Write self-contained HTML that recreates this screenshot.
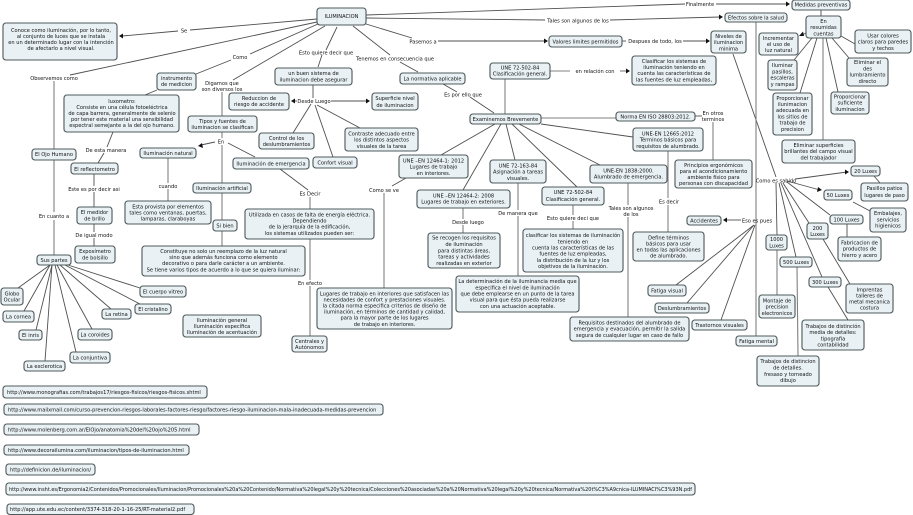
<!DOCTYPE html>
<html><head><meta charset="utf-8"><style>
html,body{margin:0;padding:0;background:#fff;width:913px;height:515px;overflow:hidden}
svg{display:block;filter:blur(.25px)}
text{font-family:"DejaVu Sans","Liberation Sans",sans-serif;font-size:5.1px;fill:#111;text-anchor:middle}
.l{text-anchor:start}
rect{fill:#e9f1f4;stroke:#505b5d;stroke-width:1.1;filter:drop-shadow(.5px .5px 0 #8a9294)}
line{stroke:#505050;stroke-width:.9}
line.v{stroke:#808080;stroke-width:1.1}
polygon{fill:#111}
</style></head><body>
<svg width="913" height="515" viewBox="0 0 913 515">
<g>
<line x1="317" y1="19" x2="190" y2="30"/><line x1="178" y1="31" x2="122" y2="36"/>
<line x1="317" y1="22" x2="70" y2="75"/>
<line x1="318" y1="24" x2="250" y2="54"/><line x1="231" y1="60" x2="196" y2="74"/>
<line x1="325" y1="26" x2="233" y2="80"/>
<line x1="337" y1="27" x2="326" y2="50"/><line x1="322" y1="55" x2="318" y2="67"/>
<line x1="353" y1="26" x2="390" y2="55"/><line x1="400" y1="62" x2="418" y2="72"/>
<line x1="366" y1="24" x2="412" y2="38"/><line x1="438" y1="41" x2="546" y2="41"/>
<line x1="366" y1="15" x2="685" y2="4"/><line x1="716" y1="4" x2="788" y2="4"/>
<line x1="366" y1="18" x2="545" y2="20"/><line x1="610" y1="20" x2="720" y2="17"/>
<line x1="622" y1="41" x2="626" y2="41"/><line x1="683" y1="41" x2="708" y2="41"/>
<line x1="733" y1="54" x2="776" y2="177"/>
<line x1="756" y1="22" x2="756" y2="336" class="v"/>
<line x1="806" y1="33" x2="802" y2="35"/>
<line x1="812" y1="38" x2="794" y2="60"/><line x1="817" y1="38" x2="800" y2="93"/>
<line x1="823" y1="38" x2="823" y2="140" class="v"/><line x1="826" y1="38" x2="838" y2="92"/>
<line x1="832" y1="38" x2="849" y2="58"/><line x1="841" y1="36" x2="855" y2="44"/>
<line x1="821" y1="10" x2="821" y2="16"/>
<line x1="505" y1="79" x2="505" y2="114" class="v"/>
<line x1="541" y1="118" x2="616" y2="118" class="v"/>
<line x1="541" y1="124" x2="633" y2="137"/><line x1="519" y1="124" x2="600" y2="165"/>
<line x1="512" y1="124" x2="577" y2="187"/><line x1="506" y1="124" x2="515" y2="160"/>
<line x1="501" y1="124" x2="463" y2="190"/><line x1="495" y1="124" x2="441" y2="155"/>
<line x1="443" y1="84" x2="457" y2="92"/><line x1="470" y1="97" x2="494" y2="113"/>
<line x1="550" y1="71" x2="570" y2="71" class="v"/><line x1="620" y1="71" x2="628" y2="71" class="v"/>
<line x1="695" y1="116" x2="702" y2="116"/><line x1="713" y1="122" x2="713" y2="160" class="v"/>
<line x1="668" y1="151" x2="668" y2="198" class="v"/><line x1="668" y1="205" x2="668" y2="232" class="v"/>
<line x1="628" y1="183" x2="628" y2="205" class="v"/><line x1="628" y1="217" x2="628" y2="317" class="v"/>
<line x1="573" y1="205" x2="573" y2="215" class="v"/><line x1="573" y1="221" x2="573" y2="229" class="v"/>
<line x1="518" y1="183" x2="518" y2="210" class="v"/><line x1="518" y1="216" x2="518" y2="276" class="v"/>
<line x1="463" y1="208" x2="463" y2="219" class="v"/><line x1="463" y1="225" x2="463" y2="233" class="v"/>
<line x1="406" y1="178" x2="392" y2="186"/><line x1="384" y1="193" x2="384" y2="288" class="v"/>
<line x1="313" y1="85" x2="313" y2="98"/><line x1="297" y1="101" x2="293" y2="101"/>
<line x1="331" y1="101" x2="368" y2="101"/><line x1="311" y1="104" x2="293" y2="133"/>
<line x1="315" y1="105" x2="333" y2="157"/><line x1="317" y1="105" x2="360" y2="128"/>
<line x1="222" y1="92" x2="222" y2="116" class="v"/><line x1="222" y1="132" x2="222" y2="138" class="v"/>
<line x1="215" y1="142" x2="201" y2="145"/><line x1="228" y1="143" x2="255" y2="157"/>
<line x1="222" y1="145" x2="222" y2="183" class="v"/><line x1="222" y1="193" x2="222" y2="246" class="v"/>
<line x1="168" y1="158" x2="168" y2="183" class="v"/><line x1="168" y1="189" x2="168" y2="201" class="v"/>
<line x1="280" y1="169" x2="308" y2="190"/><line x1="310" y1="197" x2="310" y2="209" class="v"/>
<line x1="310" y1="239" x2="310" y2="280" class="v"/><line x1="310" y1="286" x2="310" y2="336" class="v"/>
<line x1="54" y1="81" x2="54" y2="212" class="v"/><line x1="54" y1="220" x2="54" y2="255" class="v"/>
<line x1="157" y1="90" x2="145" y2="95"/>
<line x1="113" y1="132" x2="107" y2="147"/><line x1="104" y1="153" x2="98" y2="163"/>
<line x1="94" y1="174" x2="94" y2="186"/><line x1="94" y1="192" x2="94" y2="207"/>
<line x1="94" y1="224" x2="94" y2="232"/><line x1="94" y1="238" x2="94" y2="246"/>
<line x1="50" y1="265" x2="18" y2="288"/><line x1="50" y1="265" x2="24" y2="311"/>
<line x1="52" y1="265" x2="36" y2="330"/><line x1="52" y1="265" x2="45" y2="361"/>
<line x1="55" y1="265" x2="76" y2="352"/><line x1="57" y1="265" x2="92" y2="329"/>
<line x1="60" y1="265" x2="111" y2="309"/><line x1="65" y1="265" x2="140" y2="304"/>
<line x1="68" y1="265" x2="140" y2="288"/>
<line x1="795" y1="179" x2="847" y2="172"/><line x1="787" y1="181" x2="820" y2="190"/>
<line x1="776" y1="183" x2="777" y2="235"/><line x1="777" y1="250" x2="777" y2="295" class="v"/>
<line x1="779" y1="183" x2="796" y2="257"/><line x1="797" y1="267" x2="798" y2="356" class="v"/>
<line x1="781" y1="183" x2="822" y2="277"/><line x1="828" y1="287" x2="848" y2="320"/>
<line x1="783" y1="183" x2="809" y2="223"/><line x1="823" y1="239" x2="850" y2="284"/>
<line x1="787" y1="182" x2="830" y2="215"/><line x1="847" y1="224" x2="847" y2="237"/>
<line x1="874" y1="176" x2="880" y2="183"/><line x1="853" y1="202" x2="870" y2="211"/>
<line x1="741" y1="220" x2="725" y2="220"/>
<line x1="754" y1="225" x2="676" y2="285"/><line x1="754" y1="225" x2="687" y2="303"/><line x1="755" y1="225" x2="721" y2="320"/>
</g>
<g>
<polygon points="119,36 123,33.5 123,38.5"/><polygon points="548,41 544,38.5 544,43.5"/>
<polygon points="790,4 786,1.5 786,6.5"/><polygon points="723,17 719,14.5 719,19.5"/>
<polygon points="710,41 706,38.5 706,43.5"/><polygon points="799,36 803,31.5 804,36"/>
<polygon points="630,71 626,68.500 626,73.500"/><polygon points="291,101 295,98.500 295,103.500"/>
<polygon points="370,101 366,98.500 366,103.500"/><polygon points="198,146 202,143 203,148"/>
<polygon points="849,172 845,169.500 845,174.500"/><polygon points="822,190 818,187 817,192"/>
<polygon points="723,220 727,217.500 727,222.500"/>
</g>
<g>
<rect x="317" y="8" width="49" height="17" rx="3"/><text x="341.500" y="18">ILUMINACION</text>
<rect x="3" y="23" width="114" height="37" rx="3"/>
<text x="61" y="32">Conoce como iluminación, por lo tanto,</text><text x="61" y="38">al conjunto de luces  que se instala</text><text x="61" y="44">en un determinado lugar con la intención</text><text x="61" y="50">de afectarlo a nivel visual.</text>
<rect x="157" y="73" width="39" height="17" rx="3"/><text x="176.500" y="80">instrumento</text><text x="176.500" y="86">de medicion</text>
<rect x="64" y="95" width="115" height="37" rx="3"/>
<text x="122" y="103">luxometro:</text><text x="122" y="109">Consiste en una célula fotoeléctrica</text><text x="122" y="115">de capa barrera, generalmente de selenio</text><text x="122" y="121">por tener este material una sensibilidad</text><text x="122" y="127">espectral semejante a la del ojo humano.</text>
<rect x="32" y="149" width="44" height="11" rx="3"/><text x="54" y="156">El Ojo Humano</text>
<rect x="71" y="163" width="47" height="11" rx="3"/><text x="94.500" y="171">El reflectometro</text>
<rect x="140" y="148" width="56" height="10" rx="3"/><text x="168" y="155">Iluminación natural</text>
<rect x="193" y="183" width="58" height="10" rx="3"/><text x="222" y="190">Iluminación artificial</text>
<rect x="188" y="116" width="69" height="16" rx="3"/><text x="222.500" y="123">Tipos y fuentes de</text><text x="222.500" y="129">iluminacion se clasifican</text>
<rect x="229" y="93" width="60" height="17" rx="3"/><text x="259" y="100">Reduccion de</text><text x="259" y="106">riesgo de  accidente</text>
<rect x="233" y="158" width="76" height="11" rx="3"/><text x="271" y="165.500">Iluminación de emergencia</text>
<rect x="259" y="133" width="55" height="16" rx="3"/><text x="286.500" y="140">Control de los</text><text x="286.500" y="146">deslumbramientos</text>
<rect x="275" y="68" width="77" height="17" rx="3"/><text x="313.500" y="75">un buen sistema de</text><text x="313.500" y="81.500">iluminacion debe asegurar</text>
<rect x="372" y="93" width="46" height="17" rx="3"/><text x="395" y="100">Superficie nivel</text><text x="395" y="107">de iluminacion</text>
<rect x="345" y="128" width="73" height="23" rx="3"/><text x="381.500" y="135.500">Contraste adecuado entre</text><text x="381.500" y="141.500">los distintos   aspectos</text><text x="381.500" y="148">visuales de la tarea</text>
<rect x="313" y="157" width="44" height="11" rx="3"/><text x="335" y="164.500">Confort visual</text>
<rect x="400" y="73" width="65" height="11" rx="3"/><text x="432.500" y="80.500">La normativa  aplicable</text>
<rect x="549" y="36" width="73" height="11" rx="3"/><text x="585.500" y="43.500">Valores limites permitidos</text>
<rect x="792" y="0" width="58" height="10" rx="3"/><text x="821" y="6.500">Medidas preventivas</text>
<rect x="725" y="13" width="62" height="9" rx="3"/><text x="756" y="19.500">Efectos sobre la salud</text>
<rect x="711" y="31" width="35" height="22" rx="3"/><text x="728.500" y="38">Niveles de</text><text x="728.500" y="44">iluminacion</text><text x="728.500" y="50.500">minima</text>
<rect x="806" y="16" width="35" height="22" rx="3"/><text x="823.500" y="23">En</text><text x="823.500" y="29">resumidas</text><text x="823.500" y="35.500">cuentas</text>
<rect x="759" y="33" width="39" height="22" rx="3"/><text x="778.500" y="40">Incrementar</text><text x="778.500" y="46">el uso  de</text><text x="778.500" y="52">luz natural</text>
<rect x="855" y="30" width="56" height="23" rx="3"/><text x="883" y="37.500">Usar colores</text><text x="883" y="43.500">claros para paredes</text><text x="883" y="50">y techos</text>
<rect x="768" y="60" width="29" height="30" rx="3"/><text x="782.500" y="67">Iluminar</text><text x="782.500" y="73.500">pasillos,</text><text x="782.500" y="79.500">escaleras</text><text x="782.500" y="86">y rampas</text>
<rect x="847" y="58" width="41" height="28" rx="3"/><text x="867.500" y="64">Eliminar el</text><text x="867.500" y="70.500">des</text><text x="867.500" y="76.500">lumbramiento</text><text x="867.500" y="83">directo</text>
<rect x="773" y="93" width="39" height="42" rx="3"/><text x="792.500" y="100">Proporcionar</text><text x="792.500" y="106">ilunimacion</text><text x="792.500" y="112">adecuada en</text><text x="792.500" y="118.500">los sitios de</text><text x="792.500" y="124.500">trabajo de</text><text x="792.500" y="131">precision</text>
<rect x="831" y="92" width="38" height="22" rx="3"/><text x="850" y="98.500">Proporcionar</text><text x="850" y="104.500">suficiente</text><text x="850" y="111">iluminacion</text>
<rect x="782" y="140" width="73" height="23" rx="3"/><text x="818.500" y="147">Eliminar superficies</text><text x="818.500" y="153">brillantes del campo visual</text><text x="818.500" y="159.500">del trabajador</text>
<rect x="632" y="56" width="84" height="29" rx="3"/><text x="674" y="63">Clasificar los sistemas de</text><text x="674" y="69">iluminación teniendo en</text><text x="674" y="75">cuenta las características de</text><text x="674" y="81.500">las fuentes de luz empleadas,</text>
<rect x="490" y="63" width="60" height="16" rx="3"/><text x="520" y="69.500">UNE 72-502-84</text><text x="520" y="75.500">Clasificación general.</text>
<rect x="470" y="114" width="71" height="10" rx="3"/><text x="505.500" y="121">Examinemos Brevemente</text>
<rect x="616" y="112" width="79" height="9" rx="3"/><text x="655.500" y="118.500">Norma EN ISO 28803:2012.</text>
<rect x="633" y="128" width="70" height="23" rx="3"/><text x="668" y="135.500">UNE-EN 12665:2012</text><text x="668" y="141.500">Términos básicos para</text><text x="668" y="148">requisitos de alumbrado.</text>
<rect x="675" y="160" width="77" height="28" rx="3"/><text x="713.500" y="167">Principios ergonómicos</text><text x="713.500" y="173">para el acondicionamiento</text><text x="713.500" y="179">ambiente físico  para</text><text x="713.500" y="185">personas con discapacidad</text>
<rect x="590" y="165" width="77" height="18" rx="3"/><text x="628.500" y="172.500">UNE-EN 1838:2000.</text><text x="628.500" y="178.500">Alumbrado de emergencia.</text>
<rect x="851" y="166" width="29" height="10" rx="3"/><text x="865.500" y="173">20 Luxes</text>
<rect x="861" y="183" width="47" height="18" rx="3"/><text x="884.500" y="190">Pasillos patios</text><text x="884.500" y="197">lugares de paso</text>
<rect x="824" y="190" width="28" height="10" rx="3"/><text x="838" y="197">50 Luxes</text>
<rect x="870" y="208" width="36" height="24" rx="3"/><text x="888" y="215">Embalajes,</text><text x="888" y="221.500">servicios</text><text x="888" y="227.500">higienicos</text>
<rect x="830" y="215" width="33" height="9" rx="3"/><text x="846.500" y="221.500">100 Luxes</text>
<rect x="838" y="237" width="43" height="24" rx="3"/><text x="859.500" y="244.500">Fabricacion de</text><text x="859.500" y="250.500">productos de</text><text x="859.500" y="257">hierro y acero</text>
<rect x="807" y="223" width="21" height="16" rx="3"/><text x="817.500" y="230">200</text><text x="817.500" y="236">Luxes</text>
<rect x="766" y="235" width="21" height="15" rx="3"/><text x="776.500" y="241">1000</text><text x="776.500" y="247.500">Luxes</text>
<rect x="780" y="257" width="32" height="10" rx="3"/><text x="796" y="264">500 Luxes</text>
<rect x="809" y="277" width="32" height="10" rx="3"/><text x="825" y="284">300 Luxes</text>
<rect x="846" y="284" width="47" height="29" rx="3"/><text x="869.500" y="291.500">Imprentas</text><text x="869.500" y="297.500">talleres de</text><text x="869.500" y="303.500">metal mecanica</text><text x="869.500" y="309.500">costura</text>
<rect x="759" y="295" width="36" height="23" rx="3"/><text x="777" y="302.500">Montaje de</text><text x="777" y="308.500">precision</text><text x="777" y="315">electronicos</text>
<rect x="802" y="320" width="62" height="30" rx="3"/><text x="833" y="328">Trabajos de distinción</text><text x="833" y="334">media  de detalles:</text><text x="833" y="340.500">tipografia</text><text x="833" y="346.500">contabilidad</text>
<rect x="757" y="356" width="62" height="30" rx="3"/><text x="788" y="363">Trabajos de distincion</text><text x="788" y="369.500">de detalles.</text><text x="788" y="376">fresaso y torneado</text><text x="788" y="382">dibujo</text>
<rect x="687" y="216" width="34" height="9" rx="3"/><text x="704" y="222.500">Accidentes</text>
<rect x="633" y="232" width="71" height="29" rx="3"/><text x="668.500" y="239.500">Define términos</text><text x="668.500" y="245.500">básicos para usar</text><text x="668.500" y="251.500">en todas las aplicaciones</text><text x="668.500" y="257.500">de alumbrado.</text>
<rect x="648" y="285" width="38" height="11" rx="3"/><text x="667" y="292.500">Fatiga visual</text>
<rect x="655" y="303" width="54" height="10" rx="3"/><text x="682" y="310">Deslumbramientos</text>
<rect x="692" y="320" width="55" height="10" rx="3"/><text x="719.500" y="327">Trastornos visuales</text>
<rect x="736" y="336" width="41" height="10" rx="3"/><text x="756.500" y="343">Fatiga mental</text>
<rect x="570" y="317" width="119" height="24" rx="3"/><text x="629.500" y="324.500">Requisitos destinados del alumbrado de</text><text x="629.500" y="330.500">emergencia y evacuación, permitir la salida</text><text x="629.500" y="337">segura de cualquier lugar en caso de fallo</text>
<rect x="542" y="187" width="62" height="18" rx="3"/><text x="573" y="194">UNE 72-502-84</text><text x="573" y="201">Clasificación general.</text>
<rect x="523" y="229" width="100" height="43" rx="3"/><text x="573" y="237">clasificar los sistemas de iluminación</text><text x="573" y="243.500">teniendo en</text><text x="573" y="249.500">cuenta las características de las</text><text x="573" y="255.500">fuentes de luz empleadas,</text><text x="573" y="262">la distribución de la luz y los</text><text x="573" y="268">objetivos de la iluminación.</text>
<rect x="490" y="160" width="56" height="23" rx="3"/><text x="518" y="167.500">UNE 72-163-84</text><text x="518" y="173.500">Asignación a tareas</text><text x="518" y="180">visuales.</text>
<rect x="399" y="155" width="69" height="23" rx="3"/><text x="433.500" y="162.500">UNE –EN 12464-1: 2012</text><text x="433.500" y="168.500">Lugares de trabajo</text><text x="433.500" y="175">en interiores.</text>
<rect x="417" y="190" width="93" height="18" rx="3"/><text x="463.500" y="197.500">UNE –EN 12464-2: 2008</text><text x="463.500" y="203.500">Lugares de trabajo en exteriores.</text>
<rect x="428" y="233" width="72" height="35" rx="3"/><text x="464" y="239.500">Se recogen los requisitos</text><text x="464" y="246">de iluminación</text><text x="464" y="252.500">para distintas áreas,</text><text x="464" y="258.500">tareas y actividades</text><text x="464" y="265">realizadas en exterior</text>
<rect x="456" y="276" width="123" height="36" rx="3"/><text x="517.500" y="283">La determinación de la iluminancia media que</text><text x="517.500" y="289.500">especifica el nivel de iluminación</text><text x="517.500" y="295.500">que debe emplearse en un punto  de la tarea</text><text x="517.500" y="301.500">visual para que ésta pueda realizarse</text><text x="517.500" y="308">con una actuación aceptable.</text>
<rect x="317" y="288" width="135" height="41" rx="3"/><text x="384.500" y="295.500">Lugares de trabajo en interiores que satisfacen las</text><text x="384.500" y="301.500">necesidades de confort  y prestaciones visuales.</text><text x="384.500" y="307.500">la  citada norma especifica criterios  de diseño de</text><text x="384.500" y="313.500">iluminación,  en términos de cantidad y calidad,</text><text x="384.500" y="319.500">para la mayor parte de los lugares</text><text x="384.500" y="326">de trabajo en interiores.</text>
<rect x="245" y="209" width="129" height="30" rx="3"/><text x="309.500" y="216.500">Utilizada en casos de falta de energía eléctrica.</text><text x="309.500" y="222.500">Dependiendo</text><text x="309.500" y="228.500">de la jerarquía de la edificación,</text><text x="309.500" y="235">los sistemas utilizados pueden ser:</text>
<rect x="292" y="336" width="35" height="16" rx="3"/><text x="309.500" y="343">Centrales y</text><text x="309.500" y="349">Autónomos</text>
<rect x="213" y="220" width="24" height="11" rx="3"/><text x="225" y="227.500">Si bien</text>
<rect x="142" y="246" width="163" height="30" rx="3"/><text x="223.500" y="253">Constituye no solo un reemplazo de la luz natural</text><text x="223.500" y="259">sino que además funciona como elemento</text><text x="223.500" y="265">decorativo o para darle carácter a un ambiente.</text><text x="223.500" y="271.500">Se tiene varios tipos de acuerdo a lo que se quiera iluminar:</text>
<rect x="183" y="315" width="78" height="22" rx="3"/><text x="222" y="322">Iluminación general</text><text x="222" y="328">Iluminación específica</text><text x="222" y="334">Iluminación de acentuación</text>
<rect x="125" y="201" width="86" height="23" rx="3"/><text x="168" y="208.500">Esta provista por elementos</text><text x="168" y="214.500">tales como  ventanas, puertas,</text><text x="168" y="220.500">lamparas, claraboyas</text>
<rect x="77" y="207" width="35" height="17" rx="3"/><text x="94.500" y="214">El medidor</text><text x="94.500" y="220.500">de brillo</text>
<rect x="75" y="246" width="40" height="17" rx="3"/><text x="95" y="253">Exposímetro</text><text x="95" y="259.500">de bolsillo</text>
<rect x="37" y="255" width="34" height="10" rx="3"/><text x="54" y="262">Sus partes</text>
<rect x="1" y="288" width="22" height="17" rx="3"/><text x="12" y="295.500">Globo</text><text x="12" y="301.500">Ocular</text>
<rect x="3" y="311" width="31" height="11" rx="3"/><text x="18.500" y="318.500">La cornea</text>
<rect x="19" y="330" width="23" height="10" rx="3"/><text x="30.500" y="337">El inris</text>
<rect x="24" y="361" width="41" height="10" rx="3"/><text x="44.500" y="368">La exclerotica</text>
<rect x="70" y="352" width="40" height="11" rx="3"/><text x="90" y="359.500">La conjuntiva</text>
<rect x="78" y="329" width="34" height="11" rx="3"/><text x="95" y="336.500">La coroides</text>
<rect x="102" y="309" width="29" height="10" rx="3"/><text x="116.500" y="316">La retina</text>
<rect x="135" y="304" width="36" height="10" rx="3"/><text x="153" y="311">El cristalino</text>
<rect x="140" y="286" width="46" height="11" rx="3"/><text x="163" y="293.500">El cuerpo vitreo</text>
<rect x="3" y="386" width="204" height="12" rx="3"/><text class="l" x="7" y="394">http://www.monografias.com/trabajos17/riesgos-fisicos/riesgos-fisicos.shtml</text>
<rect x="4" y="404" width="379" height="11" rx="3"/><text class="l" x="8" y="411.500">http://www.mailxmail.com/curso-prevencion-riesgos-laborales-factores-riesgo/factores-riesgo-iluminacion-mala-inadecuada-medidas-prevencion</text>
<rect x="4" y="424" width="195" height="11" rx="3"/><text class="l" x="8" y="431.500">http://www.molenberg.com.ar/ElOjo/anatomia%20del%20ojo%205.html</text>
<rect x="4" y="445" width="185" height="10" rx="3"/><text class="l" x="8" y="452">http://www.decorailumina.com/iluminacion/tipos-de-iluminacion.html</text>
<rect x="6" y="464" width="89" height="11" rx="3"/><text class="l" x="10" y="471.500">http://definicion.de/iluminacion/</text>
<rect x="6" y="483" width="689" height="12" rx="3"/><text class="l" x="9" y="491" textLength="683" lengthAdjust="spacingAndGlyphs">http://www.insht.es/Ergonomia2/Contenidos/Promocionales/Iluminacion/Promocionales%20a%20Contenido/Normativa%20legal%20y%20tecnica/Colecciones%20asociadas%20a%20Normativa%20legal%20y%20tecnica/Normativa%20t%C3%A9cnica-ILUMINACI%C3%93N.pdf</text>
<rect x="7" y="504" width="187" height="10.500" rx="3"/><text class="l" x="10" y="511">http://app.ute.edu.ec/content/3374-318-20-1-16-25/RT-material2.pdf</text>
</g>
<g>
<text x="184" y="32.500">Se</text><text x="54" y="80">Observemos como</text><text x="240" y="59">Como</text>
<text x="222" y="85">Digamos que</text><text x="222" y="91">son diversos los</text>
<text x="326" y="54.500">Esto quiere decir que</text><text x="395" y="60.500">Tenemos en consecuencia que</text>
<text x="423" y="43.500">Pasemos a</text><text x="578" y="22.500">Tales son algunos de los</text>
<text x="700" y="6">Finalmente</text><text x="655" y="43">Despues de todo, los</text>
<text x="595" y="73">en relación con</text><text x="463" y="96.500">Es por ello que</text>
<text x="713" y="115">En otros</text><text x="713" y="121">terminos</text>
<text x="776" y="182.500">Como es sabido</text><text x="757" y="222.500">Eso es pues</text>
<text x="669" y="203.500">Es decir</text><text x="631" y="210">Tales son algunos</text><text x="631" y="216">de los</text>
<text x="573" y="220">Esto quiere deci que</text><text x="518" y="215">De manera que</text>
<text x="468" y="224">Desde luego</text><text x="384" y="192">Como se ve</text>
<text x="310" y="195.500">Es Decir</text><text x="310" y="285">En efecto</text>
<text x="314" y="103">Desde Luego</text><text x="221" y="143.500">En</text><text x="168" y="188">cuando</text>
<text x="106" y="152">De esta manera</text><text x="94" y="191">Este es por decir asi</text>
<text x="94" y="237">De igual modo</text><text x="54" y="218">En cuanto a</text>
</g>
</svg>
</body></html>
